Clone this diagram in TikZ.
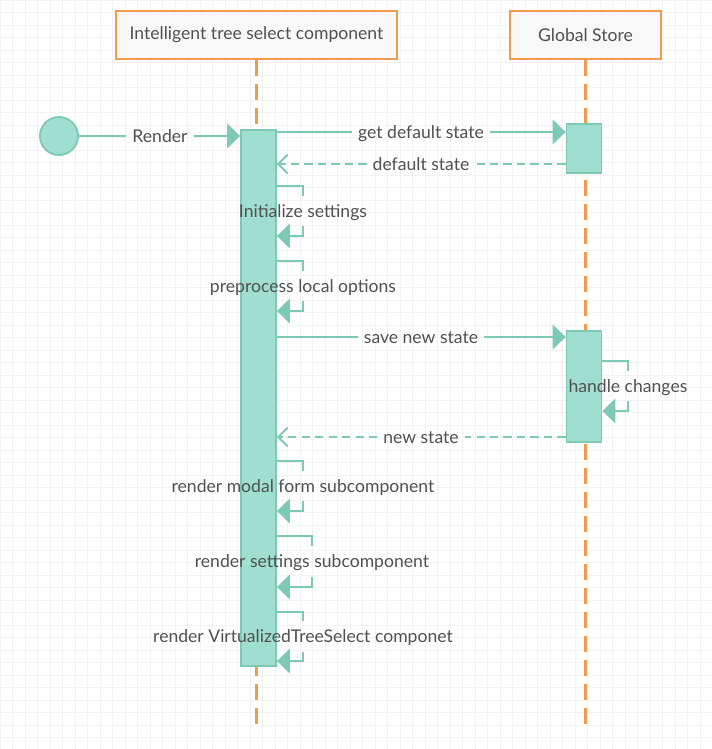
\documentclass[tikz,border=0pt]{standalone}
\usepackage{fontspec}
\setmainfont{Lato}
\usepackage{xcolor}
\definecolor{seqteal}{RGB}{125,201,181}
\definecolor{seqfill}{RGB}{160,223,208}
\definecolor{seqorange}{RGB}{240,155,80}
\definecolor{seqtext}{RGB}{80,80,80}
\definecolor{seqgrid}{RGB}{242,242,242}
\definecolor{seqbox}{RGB}{248,248,248}
\usetikzlibrary{arrows.meta, positioning, calc}
\tikzset{
  participant/.style={
    rectangle, draw=seqorange, fill=seqbox, line width=1.6pt,
    minimum height=1.44cm, text=seqtext,
    font=\fontsize{15}{18}\selectfont
  },
  lifeline/.style={draw=seqorange, line width=2.2pt, dash pattern=on 13.5pt off 7pt},
  activation/.style={
    rectangle, draw=seqteal, fill=seqfill, line width=1.6pt,
    minimum width=1.05cm, inner sep=0pt
  },
  startpoint/.style={
    circle, draw=seqteal, fill=seqfill, line width=1.6pt,
    minimum size=1.14cm, inner sep=0pt
  },
  msglabel/.style={text=seqtext, font=\fontsize{15}{18}\selectfont,
    text height=11pt, text depth=0pt, inner xsep=5pt, inner ysep=2pt},
  selflabel/.style={text=seqtext, font=\fontsize{15}{18}\selectfont,
    text height=11pt, text depth=0pt, inner sep=0pt, minimum height=0.9cm},
  msgline/.style={draw=seqteal, line width=1.6pt},
  msg/.style={msgline, -{Triangle[length=11pt,width=21pt]}},
  replyline/.style={msgline, dash pattern=on 7pt off 4.5pt},
  reply/.style={replyline, -{Straight Barb[length=8pt,width=16pt]}},
}

\begin{document}
\begin{tikzpicture}[x=0.03cm, y=-0.03cm]
  \useasboundingbox (0,0) rectangle (712,749);
  \draw[seqgrid, line width=0.5pt, step=0.375cm] (0,0) grid (712,749);

  \node[participant, minimum width=8.43cm] (comp)  at (256.5,35) {Intelligent tree select component};
  \node[participant, minimum width=4.53cm] (store) at (585.5,35) {Global Store};
  \coordinate (compend)  at (256.5,725);
  \coordinate (storeend) at (585.5,725);
  \draw[lifeline] (comp)  -- (compend);
  \draw[lifeline] (store) -- (storeend);

  \node[activation, minimum height=16.08cm] (compact)   at (258.5,398)   {};
  \node[activation, minimum height=1.47cm]  (storeact1) at (584,148.5)   {};
  \node[activation, minimum height=3.33cm]  (storeact2) at (584,386.5)   {};

  \node[startpoint] (start) at (59,136) {};
  \node[msglabel] (render) at (160,136) {Render};
  \draw[msgline] (start) -- (render.west);
  \draw[msg] (render.east) -- (compact.west |- render);

  \node[msglabel] (getstate) at (421,132) {get default state};
  \draw[msgline] (compact.east |- getstate) -- (getstate.west);
  \draw[msg] (getstate.east) -- (storeact1.west |- getstate);

  \node[msglabel] (defstate) at (421,164) {default state};
  \draw[replyline] (storeact1.west |- defstate) -- (defstate.east);
  \draw[reply] (defstate.west) -- (compact.east |- defstate);

  \foreach \name/\xr/\ytop/\ybot/\txt in {
      init/303/186/236/Initialize settings,
      prep/303/261/311/preprocess local options,
      modal/303/461/511/render modal form subcomponent,
      sett/312/536/587/render settings subcomponent,
      tree/303/612/661/render VirtualizedTreeSelect componet}
  {
    \node[selflabel] (\name) at (\xr,{(\ytop+\ybot)/2}) {\txt};
    \draw[msgline] (compact.east |- 0,\ytop) -| (\name.north);
    \draw[msg] (\name.south) |- (compact.east |- 0,\ybot);
  }

  \node[msglabel] (savestate) at (421,337) {save new state};
  \draw[msgline] (compact.east |- savestate) -- (savestate.west);
  \draw[msg] (savestate.east) -- (storeact2.west |- savestate);

  \node[selflabel] (handle) at (628,386) {handle changes};
  \draw[msgline] (storeact2.east |- 0,361) -| (handle.north);
  \draw[msg] (handle.south) |- (storeact2.east |- 0,411);

  \node[msglabel] (newstate) at (421,437) {new state};
  \draw[replyline] (storeact2.west |- newstate) -- (newstate.east);
  \draw[reply] (newstate.west) -- (compact.east |- newstate);
\end{tikzpicture}
\end{document}
